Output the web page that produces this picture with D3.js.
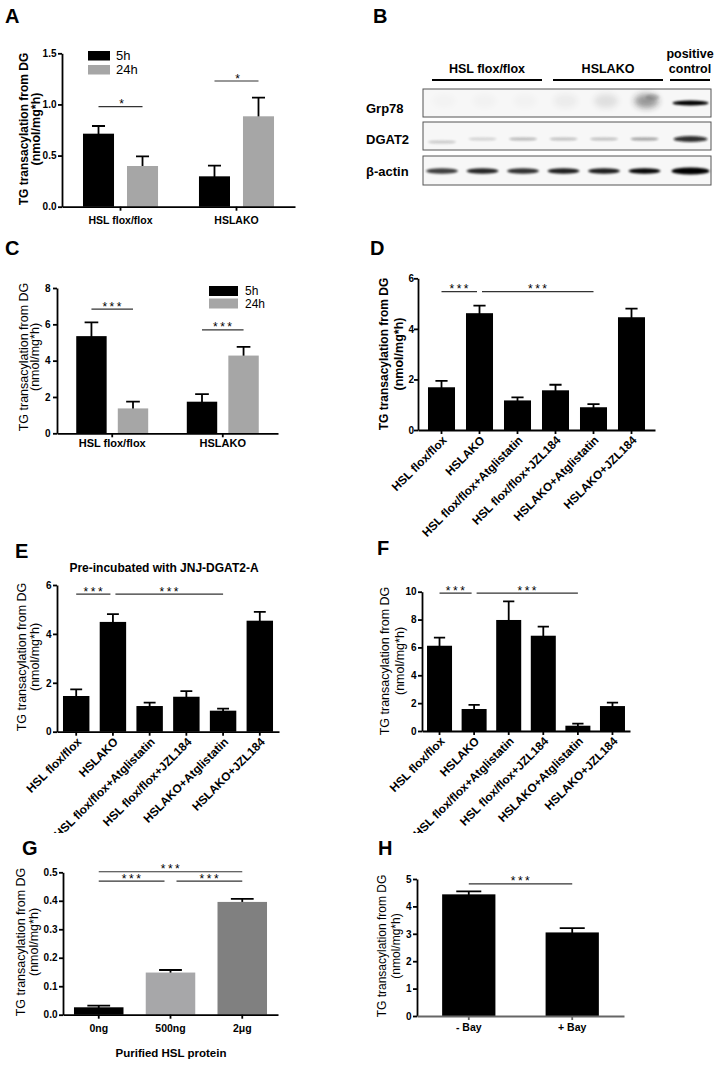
<!DOCTYPE html>
<html><head><meta charset="utf-8">
<script src="https://cdn.jsdelivr.net/npm/d3@7"></script>
<style>
body{margin:0;background:#fff}
svg{display:block}
text{font-family:'Liberation Sans',Arial,Helvetica,sans-serif;fill:#000}
</style>
</head><body>
<svg id="c" width="725" height="1066"></svg>
<script>
// ---------------- DATA ----------------
const catsAC = ["HSL flox/flox", "HSLAKO"];
const seriesAC = ["5h", "24h"];
const aMean5h = [0.714, 0.297];
const aErr5h = [0.075, 0.104];
const aMean24h = [0.398, 0.884];
const aErr24h = [0.094, 0.182];
const cMean5h = [5.35, 1.74];
const cErr5h = [0.76, 0.42];
const cMean24h = [1.37, 4.28];
const cErr24h = [0.37, 0.48];

const catsDEF = ["HSL flox/flox", "HSLAKO", "HSL flox/flox+Atglistatin", "HSL flox/flox+JZL184", "HSLAKO+Atglistatin", "HSLAKO+JZL184"];
const dMean = [1.69, 4.62, 1.17, 1.57, 0.90, 4.46];
const dErr = [0.25, 0.30, 0.12, 0.22, 0.12, 0.34];
const eMean = [1.46, 4.49, 1.05, 1.43, 0.86, 4.54];
const eErr = [0.27, 0.32, 0.14, 0.23, 0.08, 0.36];
const fMean = [6.12, 1.58, 7.97, 6.84, 0.38, 1.79];
const fErr = [0.58, 0.29, 1.34, 0.65, 0.15, 0.24];

const gCats = ["0ng", "500ng", "2μg"];
const gMean = [0.026, 0.148, 0.396];
const gErr = [0.006, 0.009, 0.011];
const hCats = ["- Bay", "+ Bay"];
const hMean = [4.44, 3.05];
const hErr = [0.11, 0.16];

const ticksA = [0, 0.5, 1.0, 1.5];
const ticksC = [0, 2, 4, 6, 8];
const ticksDE = [0, 2, 4, 6];
const ticksF = [0, 2, 4, 6, 8, 10];
const ticksG = [0, 0.1, 0.2, 0.3, 0.4, 0.5];
const ticksH = [0, 1, 2, 3, 4, 5];

// significance: [barIndexFrom, barIndexTo, level (data units), label]
const sigA = [[0, 1, 0.978, "*"], [2, 3, 1.229, "*"]];
const sigC = [[0, 1, 6.84, "***"], [2, 3, 5.69, "***"]];
const sigD = [[0, 1, 5.47, "***"], [1, 4, 5.47, "***"]];
const sigE = [[0, 1, 5.63, "***"], [1, 4, 5.63, "***"]];
const sigF = [[0, 1, 9.9, "***"], [1, 4, 9.9, "***"]];
const sigG = [[0, 2, 0.502, "***"], [0, 1, 0.469, "***"], [1, 2, 0.469, "***"]];
const sigH = [[0, 1, 4.82, "***"]];

// western blot (panel B): relative band intensities per lane
const blotGroups = ["HSL flox/flox", "HSLAKO", "positive control"];
const blotLanes = ["f1", "f2", "f3", "k1", "k2", "k3", "pc"];
const blotRows = ["Grp78", "DGAT2", "β-actin"];
const grp78Band = [0, 0, 0, 0, 0, 0.15, 1.0];
const grp78Smear = [0.015, 0.02, 0.02, 0.05, 0.11, 0.45, 0];
const dgat2Band = [0.2, 0.16, 0.28, 0.24, 0.24, 0.38, 0.85];
const actinBand = [0.75, 0.85, 0.8, 0.88, 0.88, 0.97, 1.0];

// ---------------- DRAW ----------------
const FONT = "'Liberation Sans',Arial,sans-serif";
const svg = d3.select("#c");
const defs = svg.append("defs");
defs.append("filter").attr("id", "blur1").attr("x", "-50%").attr("y", "-200%").attr("width", "200%").attr("height", "500%")
  .append("feGaussianBlur").attr("stdDeviation", 1.1);
defs.append("filter").attr("id", "blur2").attr("x", "-50%").attr("y", "-100%").attr("width", "200%").attr("height", "300%")
  .append("feGaussianBlur").attr("stdDeviation", 3.2);
defs.append("clipPath").attr("id", "clipBottom").append("rect").attr("x", 0).attr("y", 0).attr("width", 725).attr("height", 833);

function letter(t, x, y) {
  svg.append("text").attr("x", x).attr("y", y).attr("font-size", 20).attr("font-weight", "bold").text(t);
}

function panel(cfg) {
  const g = svg.append("g");
  const y = d3.scaleLinear().domain(cfg.yDomain).range([cfg.y0, cfg.y1]);
  const x = d3.scaleBand().domain(cfg.cats).range([cfg.xLeft, cfg.xRight]).paddingInner(cfg.pi).paddingOuter(cfg.po);
  const rows = [];
  if (cfg.series) {
    const xs = d3.scaleBand().domain(cfg.series).range([0, x.bandwidth()]).paddingInner(cfg.spi);
    cfg.cats.forEach((c, ci) => cfg.series.forEach((s, si) => rows.push({
      v: cfg.values[si][ci], e: cfg.errors[si][ci], color: cfg.colors[si], x: x(c) + xs(s), w: xs.bandwidth()
    })));
  } else {
    cfg.cats.forEach((c, ci) => rows.push({
      v: cfg.values[ci], e: cfg.errors[ci], color: cfg.colors[ci % cfg.colors.length], x: x(c), w: x.bandwidth()
    }));
  }
  // error bars (upper half)
  g.append("g").selectAll("path").data(rows).join("path")
    .attr("d", d => {
      const cx = d.x + d.w / 2, hw = d.w * cfg.cap / 2;
      return `M${cx},${y(d.v) + 3}V${y(d.v + d.e)}M${cx - hw},${y(d.v + d.e)}H${cx + hw}`;
    })
    .attr("stroke", "#000").attr("stroke-width", 1.8).attr("fill", "none");
  // bars
  g.append("g").selectAll("rect").data(rows).join("rect")
    .attr("x", d => d.x).attr("y", d => y(d.v)).attr("width", d => d.w).attr("height", d => y(0) - y(d.v))
    .attr("fill", d => d.color);
  // axes
  const ya = g.append("g").attr("transform", `translate(${cfg.xLeft},0)`)
    .call(d3.axisLeft(y).tickValues(cfg.yTicks).tickFormat(cfg.fmt).tickSize(4).tickPadding(cfg.tickPad ?? 1.5).tickSizeOuter(0));
  const xa = g.append("g").attr("transform", `translate(0,${y(0)})`)
    .call(d3.axisBottom(x).tickSize(4).tickSizeOuter(0).tickFormat(""));
  [ya, xa].forEach(a => {
    a.selectAll(".domain,.tick line").attr("stroke", cfg.axisColor || "#000").attr("stroke-width", 1.8);
  });
  ya.selectAll(".domain,.tick line").attr("stroke", "#000");
  ya.selectAll(".tick text").attr("font-family", FONT).attr("font-size", 10).attr("font-weight", "bold").attr("fill", "#000");
  // x labels
  const lab = g.append("g");
  if (cfg.clip) lab.attr("clip-path", "url(#clipBottom)");
  cfg.cats.forEach(c => {
    const cx = x(c) + x.bandwidth() / 2;
    if (cfg.rotate) {
      lab.append("text").attr("transform", `translate(${cx + 3},${y(0) + 8}) rotate(-45)`)
        .attr("text-anchor", "end").attr("dy", "0.35em")
        .attr("font-size", cfg.xFont).attr("font-weight", "bold").text(c);
    } else {
      lab.append("text").attr("x", cx).attr("y", cfg.xLabY).attr("text-anchor", "middle")
        .attr("font-size", cfg.xFont).attr("font-weight", "bold").text(c);
    }
  });
  // y label
  const yl = g.append("g");
  [["TG transacylation from DG", cfg.yl[0], cfg.ylSize[0]], ["(nmol/mg*h)", cfg.yl[1], cfg.ylSize[1]]].forEach(([t, xx, fs]) => {
    yl.append("text").attr("transform", `translate(${xx},${cfg.ylc}) rotate(-90)`)
      .attr("text-anchor", "middle").attr("dy", "0.32em")
      .attr("font-size", fs).attr("font-weight", cfg.ylBold ? "bold" : "normal").text(t);
  });
  // significance
  const centers = rows.map(d => d.x + d.w / 2);
  cfg.sigs.forEach((s, si) => {
    const [a, b, lv, t] = s;
    let x1 = centers[a], x2 = centers[b];
    const sharedStart = cfg.sigs.some((o, oi) => oi !== si && o[2] === lv && o[1] === a);
    const sharedEnd = cfg.sigs.some((o, oi) => oi !== si && o[2] === lv && o[0] === b);
    if (sharedStart) x1 += cfg.sigGap;
    if (sharedEnd) x2 -= cfg.sigGap;
    g.append("line").attr("x1", x1).attr("x2", x2).attr("y1", y(lv)).attr("y2", y(lv))
      .attr("stroke", "#333").attr("stroke-width", 1.2);
    g.append("text").attr("x", (x1 + x2) / 2 + 1).attr("y", y(lv) + 1.5).attr("text-anchor", "middle")
      .attr("font-size", 12).attr("letter-spacing", t.length > 1 ? 2.5 : 0).attr("fill", "#222").text(t);
  });
  // legend
  if (cfg.legend) {
    const L = cfg.legend;
    cfg.series.forEach((s, i) => {
      g.append("rect").attr("x", L.x).attr("y", L.y + i * L.dy).attr("width", L.w).attr("height", L.h).attr("fill", cfg.colors[i]);
      g.append("text").attr("x", L.x + L.w + L.gap).attr("y", L.y + i * L.dy + L.h / 2).attr("dy", "0.36em")
        .attr("font-size", L.fs).text(s);
    });
  }
  return { g, x, y };
}

// Panel A
letter("A", 5, 23);
panel({
  cats: catsAC, series: seriesAC, values: [aMean5h, aMean24h], errors: [aErr5h, aErr24h],
  colors: ["#000", "#a6a6a6"], yDomain: [0, 1.5], y0: 206.7, y1: 53.3, yTicks: ticksA, fmt: d3.format(".1f"),
  xLeft: 62, xRight: 295, pi: 0.353, po: 0.181, spi: 0.295, cap: 0.42,
  xLabY: 224, xFont: 10.5, yl: [24, 36], ylSize: [12, 12.5], ylc: 129, ylBold: true,
  sigs: sigA, sigGap: 0,
  legend: { x: 88, y: 51, w: 22, h: 9.5, dy: 14, gap: 6, fs: 13 }
});

// Panel B (western blot)
letter("B", 373, 23);
(function () {
  const g = svg.append("g");
  const lane = d3.scalePoint().domain(blotLanes.slice(0, 6)).range([442, 644.5]);
  const laneX = l => l === "pc" ? lane("k3") + 46 : lane(l);
  const groupSpan = [[432, 542], [553, 663], [670, 710]];
  blotGroups.forEach((gname, i) => {
    const [a, b] = groupSpan[i];
    g.append("line").attr("x1", a).attr("x2", b).attr("y1", 80).attr("y2", 80).attr("stroke", "#000").attr("stroke-width", 2);
    const words = i === 2 ? ["positive", "control"] : [gname];
    words.forEach((w, wi) => {
      g.append("text").attr("x", (a + b) / 2).attr("y", words.length === 2 ? 58 + wi * 15 : 73)
        .attr("text-anchor", "middle").attr("font-size", 12.5).attr("font-weight", "bold").text(w);
    });
  });
  const boxY = [89, 122, 156], boxH = [28, 28, 29];
  blotRows.forEach((r, i) => {
    g.append("rect").attr("x", 423).attr("y", boxY[i]).attr("width", 288).attr("height", boxH[i])
      .attr("fill", "#f7f7f7").attr("stroke", "#555").attr("stroke-width", 1);
    g.append("text").attr("x", 366).attr("y", boxY[i] + boxH[i] / 2 + (i === 0 ? 5 : i === 1 ? 3 : 1)).attr("dy", "0.35em")
      .attr("font-size", 13).attr("font-weight", "bold").text(r);
  });
  const bands = g.append("g");
  // Grp78 diffuse smear
  bands.selectAll(".sm").data(blotLanes.map((l, i) => ({ l, v: grp78Smear[i] }))).join("ellipse")
    .attr("cx", d => laneX(d.l) + 2).attr("cy", 101).attr("rx", 12).attr("ry", 7)
    .attr("fill", "#222").attr("opacity", d => d.v).attr("filter", "url(#blur2)");
  bands.selectAll(".gb").data(blotLanes.map((l, i) => ({ l, v: grp78Band[i] }))).join("ellipse")
    .attr("cx", d => laneX(d.l) + (d.l === "pc" ? 0 : 8)).attr("cy", d => d.l === "pc" ? 103 : 97)
    .attr("rx", d => d.l === "pc" ? 18 : 7).attr("ry", d => d.l === "pc" ? 2.6 : 3)
    .attr("fill", "#000").attr("opacity", d => d.v).attr("filter", "url(#blur1)");
  bands.selectAll(".dg").data(blotLanes.map((l, i) => ({ l, v: dgat2Band[i] }))).join("ellipse")
    .attr("cx", d => laneX(d.l)).attr("cy", (d, i) => i === 0 ? 142 : 139)
    .attr("rx", d => d.l === "pc" ? 17 : 14).attr("ry", d => d.l === "pc" ? 3 : 1.6)
    .attr("fill", "#111").attr("opacity", d => d.v).attr("filter", "url(#blur1)");
  bands.selectAll(".ac").data(blotLanes.map((l, i) => ({ l, v: actinBand[i] }))).join("ellipse")
    .attr("cx", d => laneX(d.l)).attr("cy", 171)
    .attr("rx", d => d.l === "pc" ? 19 : 16).attr("ry", d => d.l === "pc" ? 3.6 : 2.8)
    .attr("fill", "#000").attr("opacity", d => d.v).attr("filter", "url(#blur1)");
})();

// Panel C
letter("C", 5, 255);
panel({
  cats: catsAC, series: seriesAC, values: [cMean5h, cMean24h], errors: [cErr5h, cErr24h],
  colors: ["#000", "#a6a6a6"], yDomain: [0, 8], y0: 433.3, y1: 288, yTicks: ticksC, fmt: d3.format("d"),
  xLeft: 57, xRight: 278, pi: 0.349, po: 0.174, spi: 0.268, cap: 0.45, tickPad: 2.5,
  xLabY: 447, xFont: 11, yl: [23.5, 35], ylSize: [12.5, 12.5], ylc: 357, ylBold: false,
  sigs: sigC, sigGap: 0,
  legend: { x: 209, y: 286, w: 29, h: 10, dy: 12.5, gap: 7, fs: 12 }
});

// Panel D
letter("D", 370, 255);
panel({
  cats: catsDEF, values: dMean, errors: dErr, colors: ["#000"], yDomain: [0, 6], y0: 430, y1: 278.3,
  yTicks: ticksDE, fmt: d3.format("d"), xLeft: 418, xRight: 655, pi: 0.289, po: 0.263, cap: 0.45, tickPad: 0,
  rotate: true, xFont: 11.8, yl: [384.5, 399], ylSize: [12, 12.5], ylc: 354, ylBold: true,
  sigs: sigD, sigGap: 2.5
});

// Panel E
letter("E", 15, 558);
svg.append("text").attr("x", 164).attr("y", 572).attr("text-anchor", "middle").attr("font-size", 12)
  .attr("font-weight", "bold").text("Pre-incubated with JNJ-DGAT2-A");
panel({
  cats: catsDEF, values: eMean, errors: eErr, colors: ["#000"], yDomain: [0, 6], y0: 731.7, y1: 585,
  yTicks: ticksDE, fmt: d3.format("d"), xLeft: 57, xRight: 279, pi: 0.28, po: 0.163, cap: 0.45,
  rotate: true, clip: true, xFont: 11.8, yl: [22, 34.5], ylSize: [12.5, 12.5], ylc: 657, ylBold: false,
  sigs: sigE, sigGap: 2.5
});

// Panel F
letter("F", 377, 555);
panel({
  cats: catsDEF, values: fMean, errors: fErr, colors: ["#000"], yDomain: [0, 10], y0: 731, y1: 591.7,
  yTicks: ticksF, fmt: d3.format("d"), xLeft: 422, xRight: 630, pi: 0.277, po: 0.145, cap: 0.45,
  rotate: true, clip: true, xFont: 11.8, yl: [385, 399.5], ylSize: [12.5, 12.5], ylc: 661, ylBold: false,
  sigs: sigF, sigGap: 2.5
});

// Panel G
letter("G", 22, 855);
panel({
  cats: gCats, values: gMean, errors: gErr, colors: ["#000", "#a7a7a9", "#808080"], yDomain: [0, 0.5],
  y0: 1014.7, y1: 872.3, yTicks: ticksG, fmt: d3.format(".1f"), xLeft: 63, xRight: 278, pi: 0.31, po: 0.153,
  cap: 0.46, xLabY: 1032, xFont: 10.5, yl: [20.5, 33.5], ylSize: [12.5, 12.5], ylc: 942, ylBold: false,
  sigs: sigG, sigGap: 6
});
svg.append("text").attr("x", 171).attr("y", 1057).attr("text-anchor", "middle").attr("font-size", 11.5)
  .attr("font-weight", "bold").text("Purified HSL protein");

// Panel H
letter("H", 378, 855);
panel({
  cats: hCats, values: hMean, errors: hErr, colors: ["#000"], yDomain: [0, 5], y0: 1016, y1: 879,
  yTicks: ticksH, fmt: d3.format("d"), xLeft: 417, xRight: 624, pi: 0.485, po: 0.243, cap: 0.47,
  xLabY: 1031, xFont: 10.5, yl: [382.5, 396.5], ylSize: [12, 12], ylc: 946, ylBold: false,
  sigs: sigH, sigGap: 0, axisColor: "#666"
});
</script>
</body></html>
